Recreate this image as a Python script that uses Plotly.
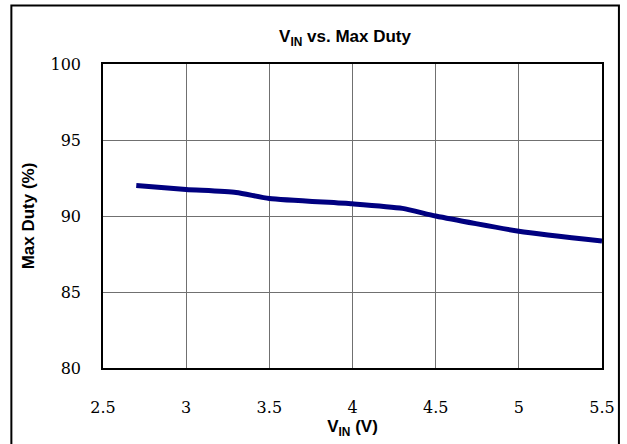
import plotly.graph_objects as go

vin = [2.7, 3.0, 3.3, 3.5, 4.0, 4.3, 4.5, 5.0, 5.5]
duty = [92.0, 91.75, 91.55, 91.15, 90.8, 90.5, 90.0, 89.0, 88.35]
x_ticks = [2.5, 3, 3.5, 4, 4.5, 5, 5.5]
x_tick_labels = ["2.5", "3", "3.5", "4", "4.5", "5", "5.5"]
y_ticks = [80, 85, 90, 95, 100]

W, H = 627, 444
L, R, T, B = 103, 23, 64, 73
pw, ph = W - L - R, H - T - B

fig = go.Figure()
fig.add_trace(go.Scatter(
    x=vin, y=duty, mode="lines",
    line=dict(color="#000080", width=5, shape="spline", smoothing=0.6),
    showlegend=False, hoverinfo="skip",
))

tickfont = dict(family="DejaVu Serif", size=16, color="#000")
boldfont = dict(family="Arial", size=17, color="#000")

fig.update_layout(
    width=W, height=H,
    margin=dict(l=L, r=R, t=T, b=B),
    paper_bgcolor="white", plot_bgcolor="white",
    title=dict(text="<b>V<sub>IN</sub> vs. Max Duty</b>", font=boldfont,
               x=345 / W, xanchor="center", y=1 - 36 / H, yanchor="middle"),
    xaxis=dict(
        range=[2.5, 5.5], tickvals=x_ticks, ticktext=x_tick_labels,
        showgrid=True, gridcolor="#707070", gridwidth=1,
        showline=True, linecolor="#000", linewidth=1.5, mirror=True,
        ticks="", tickfont=tickfont, ticklabelstandoff=24,
        zeroline=False,
        title=dict(text="<b>V<sub>IN</sub> (V)</b>", font=boldfont, standoff=3),
    ),
    yaxis=dict(
        range=[80, 100], tickvals=y_ticks,
        showgrid=True, gridcolor="#707070", gridwidth=1,
        showline=True, linecolor="#000", linewidth=1.5, mirror=True,
        ticks="", tickfont=tickfont, ticklabelstandoff=17,
        zeroline=False,
        title=dict(text="<b>Max Duty (%)</b>", font=boldfont, standoff=12),
    ),
    shapes=[dict(
        type="rect", xref="paper", yref="paper",
        x0=(11 - L) / pw, x1=(621 - L) / pw,
        y0=-(B + 20) / ph, y1=(T + ph - 5) / ph,
        line=dict(color="#000", width=2), fillcolor="rgba(0,0,0,0)", layer="above",
    )],
)
fig.write_html("out.html", config={"displayModeBar": False},
               post_script="document.body.style.margin='0';")
